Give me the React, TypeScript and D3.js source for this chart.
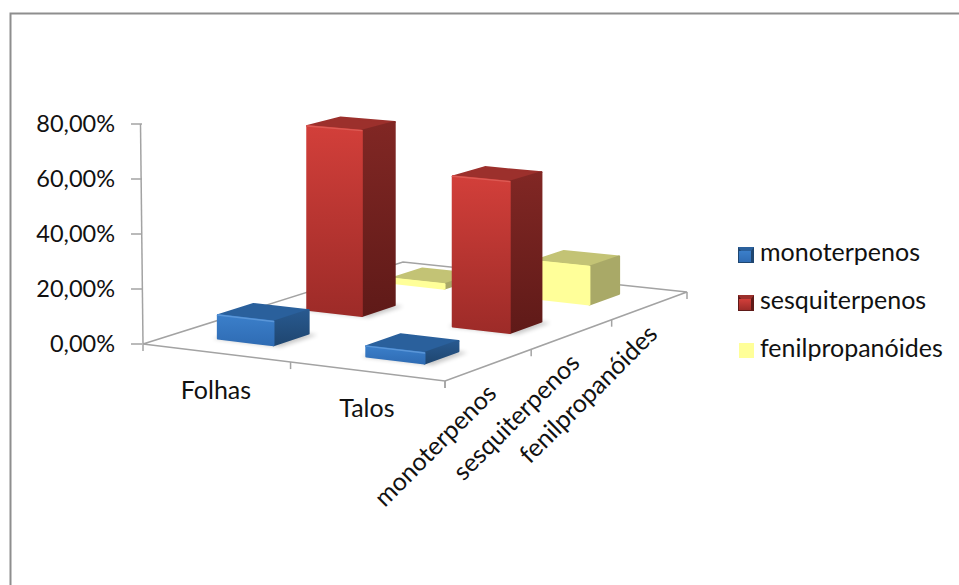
import React from "react";
import * as d3 from "d3";

const groups = ["Folhas", "Talos"];
const compounds = ["monoterpenos", "sesquiterpenos", "fenilpropanóides"];
const monoterpenos = [8.6, 3.7];
const sesquiterpenos = [69.5, 55.5];
const fenilpropanoides = [1.7, 14.3];
const seriesValues = [monoterpenos, sesquiterpenos, fenilpropanoides];
const valueTicks = [0, 20, 40, 60, 80];

const W = 959;
const H = 585;
const FONT = "Lato, Carlito, sans-serif";
const AXIS = "#a3a3a3";
const LABEL_SIZE = 25;

// Floor of the 3D plot on screen: front-left, front-right, back-right, back-left.
const floor: [number, number][] = [[143, 344], [445, 381], [687, 292], [403, 262]];

// Square-to-quad homography for the floor plane.
const [p0, p1, p2, p3] = floor;
const dx1 = p1[0] - p2[0], dx2 = p3[0] - p2[0], dx3 = p0[0] - p1[0] + p2[0] - p3[0];
const dy1 = p1[1] - p2[1], dy2 = p3[1] - p2[1], dy3 = p0[1] - p1[1] + p2[1] - p3[1];
const den = dx1 * dy2 - dx2 * dy1;
const g = (dx3 * dy2 - dx2 * dy3) / den;
const h = (dx1 * dy3 - dx3 * dy1) / den;
const a = p1[0] - p0[0] + g * p1[0], b = p3[0] - p0[0] + h * p3[0];
const d = p1[1] - p0[1] + g * p1[1], e = p3[1] - p0[1] + h * p3[1];

const uScale = d3.scaleLinear().domain([0, groups.length]).range([0, 1]);
const vScale = d3.scaleLinear().domain([0, compounds.length]).range([0, 1]);
const valueScale = d3.scaleLinear().domain([0, 80]).range([344, 124]);
const pxPerUnit = valueScale(0) - valueScale(1);

// Project a floor position (group, compound) raised by a value to screen space.
function project(u: number, v: number, value = 0): [number, number] {
  const s = uScale(u), t = vScale(v);
  const w = 1 + g * s + h * t;
  return [(a * s + b * t + p0[0]) / w, (d * s + e * t + p0[1]) / w - (value * pxPerUnit) / w];
}

const polygon = d3.line<[number, number]>().curve(d3.curveLinearClosed);

const palettes = [
  { id: "blue", frontA: "#3b7fca", frontB: "#2f6cb4", top: "#2a609c", sideA: "#28598f", sideB: "#1f4670", edge: "#5a96d8" },
  { id: "red", frontA: "#d23f3a", frontB: "#9d2b28", top: "#9c302c", sideA: "#812724", sideB: "#5f1a18", edge: "#dc5a54" },
  { id: "yellow", frontA: "#ffff99", frontB: "#ffff99", top: "#c3c375", sideA: "#a9a967", sideB: "#a9a967", edge: "#ffff99" },
];

const INSET_U = 0.29;
const WIDTH_U = 0.38;
const INSET_V = 0.35;
const DEPTH_V = 0.39;

function Bar({ groupIndex, seriesIndex, value }: { groupIndex: number; seriesIndex: number; value: number }) {
  const pal = palettes[seriesIndex];
  const u0 = groupIndex + INSET_U, u1 = u0 + WIDTH_U;
  const v0 = seriesIndex + INSET_V, v1 = v0 + DEPTH_V;
  const shadowOn = seriesIndex < 2;
  const soft = { strokeWidth: 2, strokeLinejoin: "round" as const };
  return (
    <g>
      {shadowOn && (
        <path
          d={polygon([project(u0 - 0.02, v0 - 0.02), project(u1 + 0.06, v0 - 0.02), project(u1 + 0.06, v1), project(u0 - 0.02, v1)])!}
          fill="#000"
          opacity={0.22}
          filter="url(#floorShadow)"
        />
      )}
      <path
        d={polygon([project(u0, v1, value), project(u1, v1, value), project(u1, v0, value), project(u0, v0, value)])!}
        fill={pal.top}
        stroke={pal.top}
        {...soft}
      />
      <path
        d={polygon([project(u1, v0), project(u1, v1), project(u1, v1, value), project(u1, v0, value)])!}
        fill={`url(#side-${pal.id})`}
        stroke={`url(#side-${pal.id})`}
        {...soft}
      />
      <path
        d={polygon([project(u0, v0), project(u1, v0), project(u1, v0, value), project(u0, v0, value)])!}
        fill={`url(#front-${pal.id})`}
        stroke={`url(#front-${pal.id})`}
        {...soft}
      />
      {/* lit bevel along the front top edge */}
      <path
        d={d3.line()([project(u0, v0, value), project(u1, v0, value)])!}
        fill="none"
        stroke={pal.edge}
        strokeWidth={1.5}
        strokeLinecap="round"
      />
    </g>
  );
}

function Swatch({ index, y }: { index: number; y: number }) {
  const pal = palettes[index];
  if (index === 2) return <rect x={739} y={y} width={15} height={15} fill={pal.frontA} />;
  const x = 738, size = 16, inset = 3;
  return (
    <g>
      <rect x={x} y={y} width={size} height={size} fill={pal.sideB} />
      <path
        d={polygon([[x, y], [x + size, y], [x + size - inset, y + inset + 1], [x + inset, y + inset + 1]])!}
        fill={pal.top}
      />
      <rect x={x + inset - 2} y={y + inset + 1} width={size - inset - 1} height={size - inset - 2} fill={`url(#front-${pal.id})`} />
    </g>
  );
}

export default function App() {
  const frontTicks = d3.range(groups.length + 1);
  const sideTicks = d3.range(compounds.length + 1);
  return (
    <svg
      width={W}
      height={H}
      viewBox={`0 0 ${W} ${H}`}
      style={{ position: "absolute", left: 0, top: 0, background: "#fff" }}
      fontFamily={FONT}
      fill="#111"
    >
      <defs>
        <filter id="floorShadow" x="-30%" y="-30%" width="160%" height="160%">
          <feGaussianBlur stdDeviation="2" />
        </filter>
        {palettes.map((p) => (
          <React.Fragment key={p.id}>
            <linearGradient id={`front-${p.id}`} x1="0" y1="0" x2="0" y2="1">
              <stop offset="0" stopColor={p.frontA} />
              <stop offset="1" stopColor={p.frontB} />
            </linearGradient>
            <linearGradient id={`side-${p.id}`} x1="0" y1="0" x2="0" y2="1">
              <stop offset="0" stopColor={p.sideA} />
              <stop offset="1" stopColor={p.sideB} />
            </linearGradient>
          </React.Fragment>
        ))}
      </defs>

      {/* chart frame, open on the right and bottom */}
      <path d={`M10.5 ${H} V13.5 H${W}`} fill="none" stroke="#8e8e8e" strokeWidth={2} />

      {/* floor outline */}
      <path d={polygon(floor)!} fill="none" stroke={AXIS} strokeWidth={1.5} />
      {frontTicks.map((t) => {
        const [x, y] = project(t, 0);
        return <line key={`f${t}`} x1={x} x2={x} y1={y} y2={y + 7} stroke={AXIS} strokeWidth={1.5} />;
      })}
      {sideTicks.map((t) => {
        const [x, y] = project(groups.length, t);
        return <line key={`s${t}`} x1={x} x2={x} y1={y} y2={y + 7} stroke={AXIS} strokeWidth={1.5} />;
      })}

      {/* value axis */}
      <line x1={143} x2={140.5} y1={valueScale(0)} y2={valueScale(80)} stroke={AXIS} strokeWidth={1.5} />
      {valueTicks.map((t) => (
        <g key={t}>
          <line x1={131} x2={142} y1={valueScale(t)} y2={valueScale(t)} stroke={AXIS} strokeWidth={1.5} />
          <text x={115} y={valueScale(t) + 8} textAnchor="end" fontSize={23.5}>
            {t.toFixed(2).replace(".", ",")}%
          </text>
        </g>
      ))}

      {/* bars, back row first */}
      {[2, 1, 0].map((s) =>
        groups.map((_, gi) => <Bar key={`${s}-${gi}`} groupIndex={gi} seriesIndex={s} value={seriesValues[s][gi]} />)
      )}

      {/* category labels */}
      {groups.map((name, i) => {
        const [x, y] = project(i + 0.5, 0);
        return (
          <text key={name} x={x} y={y + 46} textAnchor="middle" fontSize={LABEL_SIZE}>
            {name}
          </text>
        );
      })}
      {compounds.map((name, i) => {
        const [x, y] = project(groups.length, i + 0.5);
        return (
          <text
            key={name}
            transform={`translate(${x + 9},${y + 30}) rotate(-45)`}
            textAnchor="end"
            fontSize={LABEL_SIZE}
          >
            {name}
          </text>
        );
      })}

      {/* legend */}
      {compounds.map((name, i) => {
        const y = 261 + i * 48;
        return (
          <g key={name}>
            <Swatch index={i} y={y - 14} />
            <text x={760} y={y} fontSize={LABEL_SIZE}>
              {name}
            </text>
          </g>
        );
      })}
    </svg>
  );
}
